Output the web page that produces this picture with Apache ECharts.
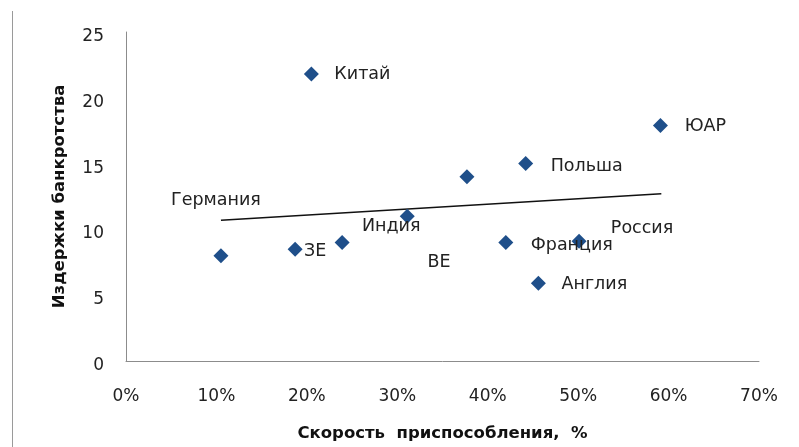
<!DOCTYPE html>
<html>
<head>
<meta charset="utf-8">
<style>
  html, body { margin: 0; padding: 0; background: #fff; }
  #chart { width: 799px; height: 447px; }
</style>
<script src="https://cdn.jsdelivr.net/npm/echarts@6/dist/echarts.min.js"></script>
</head>
<body>
<div id="chart"></div>
<script>
// страны (подписи точек), '' — точка без подписи
var countries = ['Германия', 'ЗЕ', 'Китай', '', 'Индия', 'ВЕ', 'Польша', 'Франция', 'Англия', 'Россия', 'ЮАР'];
// скорость приспособления, %
var speedPct = [10.5, 18.7, 20.5, 23.9, 31.1, 37.7, 44.2, 42.0, 45.6, 50.1, 59.1];
// издержки банкротства
var costs = [8.0, 8.5, 21.8, 9.0, 11.0, 14.0, 15.0, 9.0, 5.9, 9.1, 17.9];
// линия тренда
var trendX = [10.5, 59.2];
var trendY = [10.7, 12.7];
var xTicks = [0, 10, 20, 30, 40, 50, 60, 70];
var yTicks = [0, 5, 10, 15, 20, 25];

// сдвиги подписей относительно точек (px)
var labelShift = {
  'Германия': [-5, -55],
  'ЗЕ': [20, 2],
  'Китай': [51, 0],
  'Индия': [-16, 10],
  'ВЕ': [-28, 86],
  'Польша': [61, 3],
  'Франция': [66, 3],
  'Англия': [56, 1],
  'Россия': [63, -13],
  'ЮАР': [45, 1]
};

var font = 'DejaVu Sans';
var points = speedPct.map(function (x, i) {
  var name = countries[i];
  return {
    value: [x, costs[i]],
    name: name,
    label: {
      show: name !== '',
      offset: labelShift[name] || [0, 0]
    }
  };
});

var myChart = echarts.init(document.getElementById('chart'));
myChart.setOption({
  animation: false,
  grid: { left: 126, right: 40, top: 32, bottom: 84 },
  graphic: [{
    type: 'line',
    shape: { x1: 12.5, y1: 11, x2: 12.5, y2: 447 },
    style: { stroke: '#9a9a9a', lineWidth: 1 }
  }],
  xAxis: {
    type: 'value',
    min: xTicks[0],
    max: xTicks[xTicks.length - 1],
    interval: 10,
    name: 'Скорость  приспособления,  %',
    nameLocation: 'middle',
    nameGap: 64,
    nameTextStyle: { fontFamily: font, fontSize: 16.5, fontWeight: 'bold', color: '#111' },
    axisLine: { lineStyle: { color: '#8c8c8c' } },
    axisTick: { show: false },
    splitLine: { show: false },
    axisLabel: { formatter: '{value}%', fontFamily: font, fontSize: 17, color: '#222', margin: 27 }
  },
  yAxis: {
    type: 'value',
    min: yTicks[0],
    max: yTicks[yTicks.length - 1],
    interval: 5,
    name: 'Издержки банкротства',
    nameLocation: 'middle',
    nameGap: 58,
    nameTextStyle: { fontFamily: font, fontSize: 16.5, fontWeight: 'bold', color: '#111' },
    axisLine: { show: true, lineStyle: { color: '#8c8c8c' } },
    axisTick: { show: false },
    splitLine: { show: false },
    axisLabel: { fontFamily: font, fontSize: 17, color: '#222', margin: 22, verticalAlign: 'top', lineHeight: 9 }
  },
  series: [{
    type: 'line',
    data: trendX.map(function (x, i) { return [x, trendY[i]]; }),
    symbol: 'none',
    lineStyle: { color: '#111', width: 1.5 },
    silent: true,
    z: 1
  }, {
    type: 'scatter',
    data: points,
    symbol: 'diamond',
    symbolSize: [15, 15],
    itemStyle: { color: '#1f4f8a', opacity: 1 },
    label: {
      position: 'inside',
      formatter: '{b}',
      fontFamily: font,
      fontSize: 17.5,
      color: '#222',
      textBorderWidth: 0,
      opacity: 1
    },
    z: 3
  }]
});
</script>
</body>
</html>
